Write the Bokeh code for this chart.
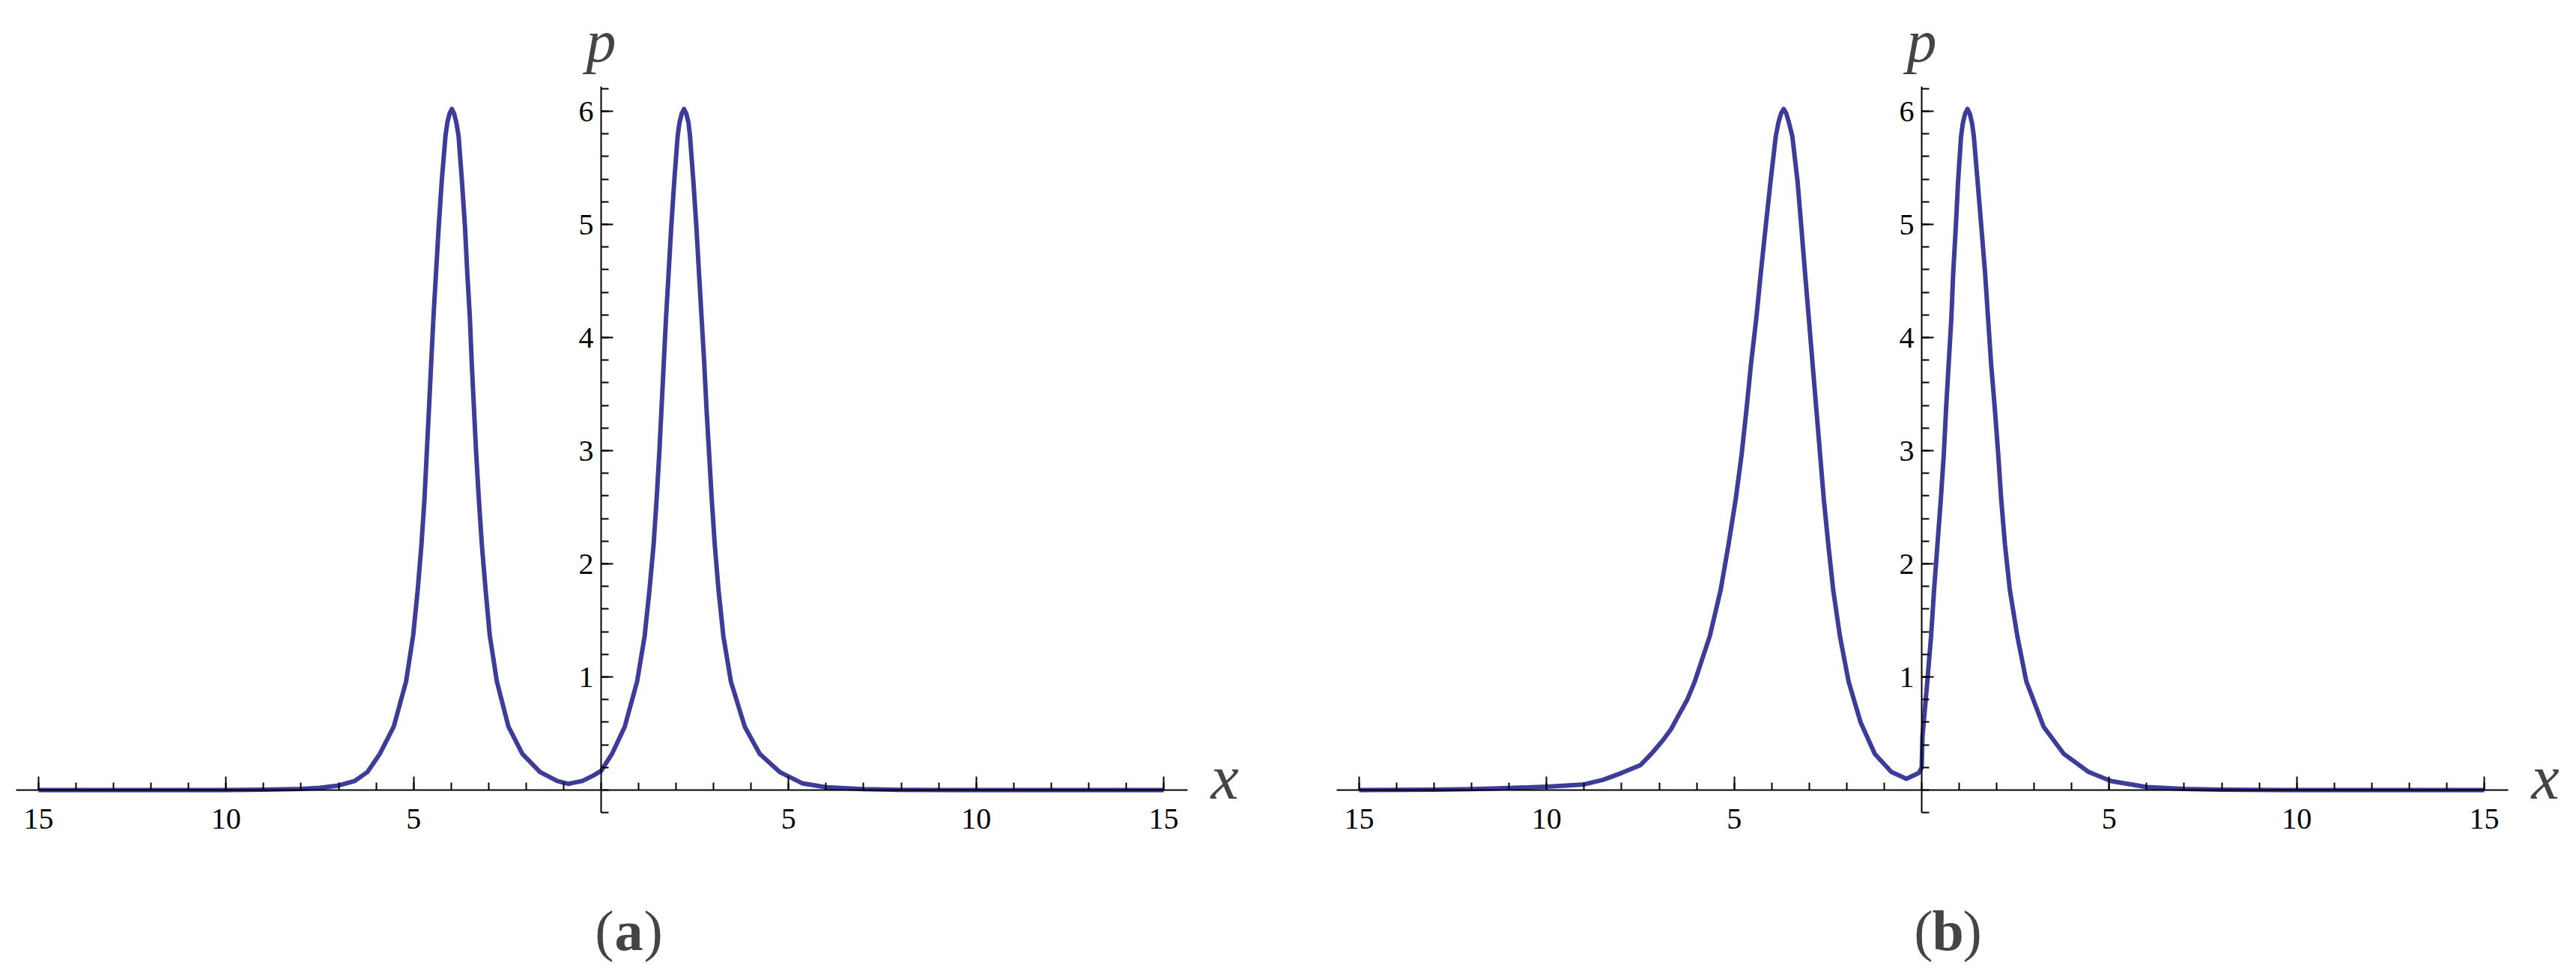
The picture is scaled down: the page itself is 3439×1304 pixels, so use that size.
from bokeh.plotting import figure
from bokeh.models import FixedTicker, Label, Range1d
from bokeh.layouts import row
from bokeh.embed import file_html
from bokeh.resources import INLINE

# ---------------- data ----------------
# panel (a)
xa = [-15, -12, -10, -9, -8, -7.5, -7, -6.57, -6.23, -5.9, -5.53, -5.2, -5.01, -4.89, -4.79,
      -4.71, -4.65, -4.59, -4.53, -4.47, -4.40, -4.33, -4.25, -4.15, -4.10, -4.04, -3.98,
      -3.92, -3.86, -3.80, -3.71, -3.63, -3.57, -3.50, -3.45, -3.39, -3.33, -3.26, -3.18,
      -3.08, -2.97, -2.78, -2.47, -2.10, -1.63, -1.17, -0.88, -0.5, -0.2, 0.0, 0.29, 0.63,
      0.96, 1.16, 1.29, 1.40, 1.48, 1.55, 1.61, 1.67, 1.73, 1.80, 1.87, 1.95, 2.04, 2.09,
      2.15, 2.21, 2.27, 2.33, 2.37, 2.46, 2.54, 2.61, 2.68, 2.75, 2.81, 2.88, 2.95, 3.03,
      3.13, 3.26, 3.46, 3.83, 4.23, 4.76, 5.36, 6, 7, 8, 10, 12, 15]
ya = [0, 0, 0, 0.003, 0.01, 0.02, 0.04, 0.08, 0.16, 0.32, 0.56, 0.96, 1.37, 1.77, 2.17,
      2.57, 2.97, 3.37, 3.78, 4.18, 4.58, 4.98, 5.38, 5.78, 5.90, 5.98, 6.02,
      5.98, 5.90, 5.78, 5.38, 4.98, 4.58, 4.18, 3.78, 3.37, 2.97, 2.57, 2.17,
      1.77, 1.37, 0.96, 0.56, 0.32, 0.16, 0.08, 0.055, 0.08, 0.13, 0.17, 0.32, 0.56,
      0.96, 1.36, 1.77, 2.17, 2.57, 2.97, 3.37, 3.77, 4.17, 4.57, 4.98, 5.38, 5.78, 5.90,
      5.98, 6.02, 5.98, 5.90, 5.78, 5.38, 4.98, 4.57, 4.17, 3.77, 3.37, 2.97, 2.57, 2.17,
      1.77, 1.36, 0.96, 0.56, 0.32, 0.16, 0.06, 0.025, 0.008, 0.002, 0, 0, 0]

# panel (b)
xb = [-15, -13, -12, -11, -10, -9.48, -9, -8.5, -8.01, -7.5, -7.21, -6.9, -6.68, -6.5, -6.25,
      -6.05, -5.65, -5.36,
      -5.15, -4.96, -4.80, -4.67, -4.55, -4.41, -4.29, -4.16, -4.03, -3.89, -3.82, -3.75,
      -3.68, -3.61, -3.54, -3.45, -3.31, -3.21, -3.11, -3.01, -2.91, -2.81, -2.71, -2.61,
      -2.49, -2.36, -2.18, -1.95, -1.63, -1.25, -0.81, -0.41, -0.08, 0.0, 0.02, 0.15, 0.25,
      0.33, 0.42, 0.51, 0.59, 0.65, 0.72, 0.79, 0.84, 0.91, 0.97, 1.05, 1.10, 1.16, 1.22,
      1.28, 1.34, 1.39, 1.49, 1.59, 1.69, 1.77, 1.85, 1.95, 2.04, 2.12, 2.22, 2.35, 2.55,
      2.79, 3.25, 3.79, 4.45, 5.05, 6, 7, 8, 10, 12, 15]
yb = [0, 0.003, 0.008, 0.018, 0.03, 0.04, 0.05, 0.09, 0.15, 0.22, 0.32, 0.44, 0.54, 0.65, 0.80,
      0.96, 1.36, 1.77,
      2.17, 2.57, 2.97, 3.37, 3.77, 4.17, 4.57, 4.98, 5.38, 5.78, 5.90, 5.98,
      6.02, 5.98, 5.90, 5.78, 5.38, 4.98, 4.57, 4.17, 3.77, 3.37, 2.97, 2.57,
      2.17, 1.77, 1.36, 0.96, 0.60, 0.32, 0.16, 0.10, 0.15, 0.20, 0.47, 0.96, 1.36,
      1.77, 2.17, 2.57, 2.97, 3.37, 3.77, 4.17, 4.57, 4.98, 5.38, 5.78, 5.90, 5.98, 6.02,
      5.98, 5.90, 5.78, 5.38, 4.98, 4.57, 4.17, 3.77, 3.37, 2.97, 2.57, 2.17, 1.77, 1.36,
      0.96, 0.56, 0.32, 0.16, 0.08, 0.027, 0.01, 0.004, 0, 0, 0]

x_major = [-15, -10, -5, 5, 10, 15]
x_major_labels = ["15", "10", "5", "5", "10", "15"]
x_minor = list(range(-15, 16))
y_major = [1, 2, 3, 4, 5, 6]
y_major_labels = ["1", "2", "3", "4", "5", "6"]
y_minor = [round(-0.2 + 0.2 * i, 1) for i in range(33)]
panel_tags = ["a", "b"]

# ---------------- layout constants ----------------
H = 1304
PPX = 50.07           # px per x unit
PPY = 151.0           # px per y unit
Y0 = 1054             # y=0 pixel row inside figure
LINE_COLOR = "#3d3d99"
SERIF = "Liberation Serif"


def panel(xs, ys, width, x0px, tag, tag_x):
    p = figure(width=width, height=H, title=None,
               x_range=Range1d(-x0px / PPX, (width - x0px) / PPX),
               y_range=Range1d(-(H - Y0) / PPY, Y0 / PPY),
               output_backend="svg", toolbar_location=None, min_border=0)
    p.xgrid.visible = False
    p.ygrid.visible = False
    p.outline_line_color = None
    p.background_fill_color = "white"
    p.border_fill_color = "white"

    p.line(xs, ys, line_color=LINE_COLOR, line_width=6, line_join="round")

    xa_ = p.xaxis[0]
    xa_.fixed_location = 0
    xa_.bounds = (-15.6, 15.64)
    xa_.ticker = FixedTicker(ticks=x_major, minor_ticks=x_minor)
    xa_.major_label_overrides = {k: v for k, v in zip(x_major, x_major_labels)}
    xa_.major_tick_in = 18
    xa_.major_tick_out = 0
    xa_.minor_tick_in = 10
    xa_.minor_tick_out = 0
    xa_.axis_line_width = 2
    xa_.major_tick_line_width = 2
    xa_.minor_tick_line_width = 2
    xa_.major_label_standoff = 25
    xa_.major_label_text_font = SERIF
    xa_.major_label_text_font_size = "40px"
    xa_.major_label_text_color = "black"

    ya_ = p.yaxis[0]
    ya_.fixed_location = 0
    ya_.bounds = (-0.2, 6.22)
    ya_.ticker = FixedTicker(ticks=y_major, minor_ticks=y_minor)
    ya_.major_label_overrides = {k: v for k, v in zip(y_major, y_major_labels)}
    ya_.major_tick_in = 16
    ya_.major_tick_out = 0
    ya_.minor_tick_in = 10
    ya_.minor_tick_out = 0
    ya_.axis_line_width = 2
    ya_.major_tick_line_width = 2
    ya_.minor_tick_line_width = 2
    ya_.major_label_standoff = 10
    ya_.major_label_text_font = SERIF
    ya_.major_label_text_font_size = "40px"
    ya_.major_label_text_color = "black"
    ya_.major_label_orientation = "horizontal"

    p.add_layout(Label(x=0, y=6.62, text="p", text_align="center", text_baseline="alphabetic",
                       text_font=SERIF, text_font_style="italic", text_font_size="80px"))
    p.add_layout(Label(x=16.63, y=0.114, text="x", text_align="center", text_baseline="alphabetic",
                       text_font=SERIF, text_font_style="italic", text_font_size="84px"))
    ty = -1.24
    p.add_layout(Label(x=tag_x, y=ty, x_offset=-20, text="(", text_align="right",
                       text_baseline="alphabetic", text_font=SERIF, text_font_size="76px"))
    p.add_layout(Label(x=tag_x, y=ty, text=tag, text_align="center",
                       text_baseline="alphabetic", text_font=SERIF, text_font_style="bold",
                       text_font_size="76px"))
    p.add_layout(Label(x=tag_x, y=ty, x_offset=20, text=")", text_align="left",
                       text_baseline="alphabetic", text_font=SERIF, text_font_size="76px"))
    return p


pa = panel(xa, ya, 1720, 802, panel_tags[0], 0.74)
pb = panel(xb, yb, 1719, 845, panel_tags[1], 0.70)
layout = row(pa, pb, spacing=0)

open("out.html", "w").write(file_html(layout, INLINE))
